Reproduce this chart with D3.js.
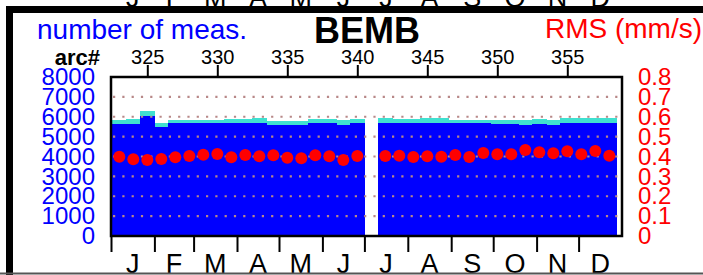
<!DOCTYPE html>
<html>
<head>
<meta charset="utf-8">
<script src="https://cdn.jsdelivr.net/npm/d3@7"></script>
<style>
  body { margin: 0; background: #fff; }
  svg { display: block; font-family: "Liberation Sans", Arial, sans-serif; }
</style>
</head>
<body>
<div id="chart"></div>
<script>
// arc numbers (arc 341 has no data)
const arcs = [323,324,325,326,327,328,329,330,331,332,333,334,335,336,337,338,339,340,341,
              342,343,344,345,346,347,348,349,350,351,352,353,354,355,356,357,358];
// turquoise top = all measurements, blue = accepted measurements
const totalMeas = [5850,5870,6290,5700,5830,5830,5860,5860,5880,5880,5920,5800,5800,5800,5870,5870,5840,5880,null,
                   5920,5900,5900,5920,5920,5860,5860,5860,5830,5830,5820,5870,5840,5920,5920,5920,5920];
const goodMeas  = [5660,5660,6040,5500,5680,5680,5690,5690,5700,5700,5670,5590,5590,5590,5700,5700,5590,5670,null,
                   5700,5700,5700,5690,5690,5670,5670,5670,5620,5620,5570,5620,5600,5700,5700,5700,5700];
const rms = [0.399,0.386,0.382,0.387,0.396,0.402,0.409,0.413,0.396,0.408,0.401,0.406,0.394,0.391,0.406,0.401,0.382,0.402,null,
             0.402,0.404,0.397,0.401,0.399,0.408,0.397,0.418,0.411,0.411,0.433,0.421,0.416,0.426,0.411,0.428,0.404];

const arcTicks = [325,330,335,340,345,350,355];
const countTicks = [0,1000,2000,3000,4000,5000,6000,7000,8000];
const rmsTicks = [0,0.1,0.2,0.3,0.4,0.5,0.6,0.7,0.8];
const gridTicks = [1000,2000,3000,4000,5000,6000,7000];
const months = ["J","F","M","A","M","J","J","A","S","O","N","D"];
const monthDays = [31,28,31,30,31,30,31,31,30,31,30,31];

const W = 703, H = 275;
const plot = { left: 111, right: 622, top: 77, bottom: 236 };

const svg = d3.select("#chart").append("svg")
  .attr("width", W)
  .attr("height", H);

const x = d3.scaleLinear().domain([322.407, 358.907]).range([plot.left, plot.right]);
const day = d3.scaleLinear().domain([0, 365]).range([plot.left, plot.right]);
const yCount = d3.scaleLinear().domain([0, 8000]).range([plot.bottom, plot.top]);
const yRms = d3.scaleLinear().domain([0, 0.8]).range([plot.bottom, plot.top]);

const data = arcs.map((a, i) => ({ arc: a, total: totalMeas[i], good: goodMeas[i], rms: rms[i] }))
  .filter(d => d.total != null);

let monthStarts = [0];
monthDays.forEach(d => monthStarts.push(monthStarts[monthStarts.length - 1] + d));
const monthMids = months.map((m, i) => (monthStarts[i] + monthStarts[i + 1]) / 2);

// month letters of the panel above (only their bottoms show)
svg.append("g").selectAll("text")
  .data(months)
  .enter().append("text")
  .attr("x", (d, i) => day(monthMids[i]))
  .attr("y", 7)
  .attr("text-anchor", "middle")
  .attr("font-size", 27)
  .text(d => d);

// bars
const bw = d => x(d.arc + 0.5) - x(d.arc - 0.5) + 0.6;
svg.append("g").attr("shape-rendering", "crispEdges").selectAll("rect")
  .data(data)
  .enter().append("rect")
  .attr("x", d => x(d.arc - 0.5))
  .attr("y", d => yCount(d.total))
  .attr("width", bw)
  .attr("height", d => yCount(0) - yCount(d.total))
  .attr("fill", "#40e0d0");

svg.append("g").attr("shape-rendering", "crispEdges").selectAll("rect")
  .data(data)
  .enter().append("rect")
  .attr("x", d => x(d.arc - 0.5))
  .attr("y", d => yCount(d.good))
  .attr("width", bw)
  .attr("height", d => yCount(0) - yCount(d.good))
  .attr("fill", "#0000ff");

// dotted grid
svg.append("g").selectAll("line")
  .data(gridTicks)
  .enter().append("line")
  .attr("x1", plot.left + 2)
  .attr("x2", plot.right)
  .attr("y1", d => yCount(d))
  .attr("y2", d => yCount(d))
  .attr("stroke", "#b88888")
  .attr("stroke-width", 2.2)
  .attr("stroke-dasharray", "2.2,7.1");

// rms dots
svg.append("g").selectAll("circle")
  .data(data)
  .enter().append("circle")
  .attr("cx", d => x(d.arc))
  .attr("cy", d => yRms(d.rms))
  .attr("r", 6)
  .attr("fill", "#ff0000");

// frame
svg.append("rect")
  .attr("x", plot.left)
  .attr("y", plot.top)
  .attr("width", plot.right - plot.left)
  .attr("height", plot.bottom - plot.top)
  .attr("fill", "none")
  .attr("stroke", "#000")
  .attr("stroke-width", 2.5);

// arc# axis on top
const topAxis = svg.append("g")
  .attr("transform", `translate(0,${plot.top})`)
  .call(d3.axisTop(x).tickValues(arcTicks).tickSize(12).tickPadding(1));
topAxis.select(".domain").remove();
topAxis.selectAll("line").attr("stroke-width", 2);
topAxis.selectAll("text").attr("font-size", 20).attr("font-family", null).attr("fill", "#000");

// month ticks below
const monthAxis = svg.append("g")
  .attr("transform", `translate(0,${plot.bottom})`)
  .call(d3.axisBottom(day).tickValues(monthStarts.slice(0, 12)).tickSize(16).tickFormat(""));
monthAxis.select(".domain").remove();
monthAxis.selectAll("line").attr("stroke-width", 2);

svg.append("g").selectAll("text")
  .data(months)
  .enter().append("text")
  .attr("x", (d, i) => day(monthMids[i]))
  .attr("y", 273)
  .attr("text-anchor", "middle")
  .attr("font-size", 27)
  .text(d => d);

// left count axis
const leftAxis = svg.append("g")
  .attr("transform", `translate(${plot.left},0)`)
  .call(d3.axisLeft(yCount).tickValues(countTicks).tickSize(0).tickPadding(16).tickFormat(d3.format("d")));
leftAxis.select(".domain").remove();
leftAxis.selectAll("text").attr("font-size", 24).attr("font-family", null).attr("fill", "#0000ff");

// right rms axis
const rightAxis = svg.append("g")
  .attr("transform", `translate(${plot.right},0)`)
  .call(d3.axisRight(yRms).tickValues(rmsTicks).tickSize(0).tickPadding(16)
    .tickFormat(d => d === 0 ? "0" : d3.format(".1f")(d)));
rightAxis.select(".domain").remove();
rightAxis.selectAll("text").attr("font-size", 24).attr("font-family", null).attr("fill", "#ff0000");

// titles
svg.append("text").attr("x", 37).attr("y", 39).attr("font-size", 28).attr("fill", "#0000ff").text("number of meas.");
svg.append("text").attr("x", 367).attr("y", 43).attr("font-size", 36).attr("font-weight", "bold")
  .attr("text-anchor", "middle").text("BEMB");
svg.append("text").attr("x", 702).attr("y", 38).attr("font-size", 28).attr("fill", "#ff0000")
  .attr("text-anchor", "end").text("RMS (mm/s)");
svg.append("text").attr("x", 100).attr("y", 65).attr("font-size", 22).attr("font-weight", "bold")
  .attr("text-anchor", "end").text("arc#");

// outer panel border
svg.append("rect").attr("x", 6).attr("y", 6).attr("width", W - 6).attr("height", 7).attr("fill", "#000");
svg.append("rect").attr("x", 6).attr("y", 6).attr("width", 7).attr("height", H - 6).attr("fill", "#000");
svg.append("line").attr("x1", 0).attr("x2", W).attr("y1", 273.5).attr("y2", 273.5)
  .attr("stroke", "#555").attr("stroke-width", 2);
</script>
</body>
</html>
